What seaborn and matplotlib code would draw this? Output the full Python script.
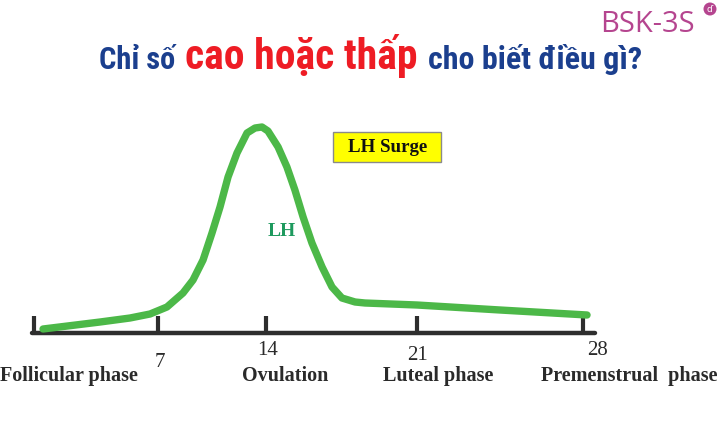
import numpy as np
import pandas as pd
import matplotlib
matplotlib.use("Agg")
import matplotlib.pyplot as plt
from matplotlib import font_manager
from matplotlib.patches import Rectangle, Circle
import seaborn as sns

# ---------------- data ----------------
days = [0.51, 3.73, 5.42, 6.55, 7.58, 8.62, 9.27, 9.92, 10.50, 11.02, 11.54,
        12.12, 12.77, 13.29, 13.74, 14.09, 14.56, 14.97, 15.34, 15.72, 16.13,
        16.60, 17.06, 17.52, 18.13, 18.59, 21.0, 24.5, 28.17]
lh_level = [4, 11, 15, 19, 26, 40, 53, 73, 100, 126, 156,
            180, 200, 205, 206, 202, 186, 166, 143, 116, 90,
            66, 46, 35, 31, 30, 28, 23, 18]
tick_days = [0, 7, 14, 21, 28]
tick_labels = ["", "7", "14", "21", "28"]
phase_labels = ["Follicular phase", "Ovulation", "Luteal phase", "Premenstrual  phase"]
phase_anchor_days = [0, 14, 21, 28]
title_parts = ["Chỉ số", "cao hoặc thấp", "cho biết điều gì?"]
series_name = "LH"
annotation = "LH Surge"
logo = "BSK-3S"

# ---------------- style ----------------
sns.set_theme(style="white")
names = {f.name for f in font_manager.fontManager.ttflist}
cond = "Roboto Condensed" if "Roboto Condensed" in names else (
    "Liberation Sans Narrow" if "Liberation Sans Narrow" in names else "DejaVu Sans")
serif = ["Liberation Serif", "DejaVu Serif"]
plt.rcParams["font.family"] = ["DejaVu Sans"]

W, H = 720, 423
fig = plt.figure(figsize=(W / 100, H / 100), dpi=100)
fig.patch.set_facecolor("white")

# axis geometry (pixels)
x0_px, x1_px = 34, 583
base_px, top_px = 333, 100
ax = fig.add_axes([x0_px / W, (H - base_px) / H, (x1_px - x0_px) / W, (base_px - top_px) / H])
ax.set_facecolor("none")

# non-uniform day scale, as drawn in the reference
tick_pos = [0, 124, 232, 383, 549]
ext_days = [-28] + tick_days + [56]
ext_pos = [-496] + tick_pos + [549 + 664]
fwd = lambda x: np.interp(x, ext_days, ext_pos)
inv = lambda p: np.interp(p, ext_pos, ext_days)
ax.set_xscale("function", functions=(fwd, inv))
ax.set_xlim(0, 28)
ax.set_ylim(0, base_px - top_px)

df = pd.DataFrame({"day": days, "level": lh_level})
sns.lineplot(data=df, x="day", y="level", color="#4cb848", linewidth=5.3,
             ax=ax, solid_capstyle="round", solid_joinstyle="round",
             clip_on=False, zorder=3)

for s in ax.spines.values():
    s.set_visible(False)
ax.axhline(0, xmin=-0.003, xmax=(595 - x0_px) / (x1_px - x0_px), color="#2e2e2e",
           lw=3.2, clip_on=False, zorder=2)
ax.set_yticks([])
ax.set_xticks(tick_days)
ax.tick_params(axis="x", direction="in", length=12, width=3, color="#2e2e2e",
               labelbottom=False, bottom=True)
ax.set_xlabel("")
ax.set_ylabel("")

# tick labels (placed individually as in the reference)
num_off = [(0, 0), (2, -29), (2, -17), (1, -22), (14, -17)]
for d, lab, (dx, dy) in zip(tick_days, tick_labels, num_off):
    if lab:
        ax.annotate(lab, xy=(d, 0), xytext=(dx, dy), textcoords="offset pixels",
                    ha="center", va="center", fontsize=15, family=serif,
                    color="#2a2a2a", annotation_clip=False)
phase_off = [35, 19, 21, 46]
for d, lab, dx in zip(phase_anchor_days, phase_labels, phase_off):
    ax.annotate(lab, xy=(d, 0), xytext=(dx, -43), textcoords="offset pixels",
                ha="center", va="center", fontsize=14.5, fontweight="bold",
                family=serif, color="#2a2a2a", annotation_clip=False)

# series label
ax.annotate(series_name, xy=(14, 0), xytext=(282 - 266, -(231 - base_px)),
            textcoords="offset pixels", ha="center", va="center", fontsize=14,
            fontweight="bold", family=serif, color="#1e9a5e")

# LH Surge box
fig.add_artist(Rectangle((333 / 100, (H - 162) / 100), 1.08, 0.30,
                         transform=fig.dpi_scale_trans, facecolor="#ffff00",
                         edgecolor="#8a8a8a", lw=1.0))
fig.text(388 / W, 1 - 147 / H, annotation, ha="center", va="center",
         fontsize=13.7, fontweight="bold", family=serif, color="#111111")

# title
fig.canvas.draw()
r = fig.canvas.get_renderer()
x = 99
ybase = 1 - 69 / H
styles = [("#1b3f8e", 22), ("#ee1c24", 30), ("#1b3f8e", 23)]
for txt, (col, fs) in zip(title_parts, styles):
    t = fig.text(x / W, ybase, txt, color=col, fontsize=fs, fontweight="bold",
                 family=[cond, "DejaVu Sans"], va="baseline", ha="left")
    bb = t.get_window_extent(r)
    x = bb.x1 + 10

# logo
fig.text(647 / W, 1 - 24 / H, logo, ha="center", va="center", fontsize=21,
         family=["Open Sans", "DejaVu Sans"], color="#b5458f")
fig.add_artist(Circle((7.10, (H - 9) / 100), 0.065, transform=fig.dpi_scale_trans,
                      facecolor="#b5458f", edgecolor="none"))
fig.text(710 / W, 1 - 9 / H, "ɗ", ha="center", va="center", fontsize=6.5,
         color="white", family=["DejaVu Sans"])

fig.savefig("out.png", dpi=100, facecolor="white")
